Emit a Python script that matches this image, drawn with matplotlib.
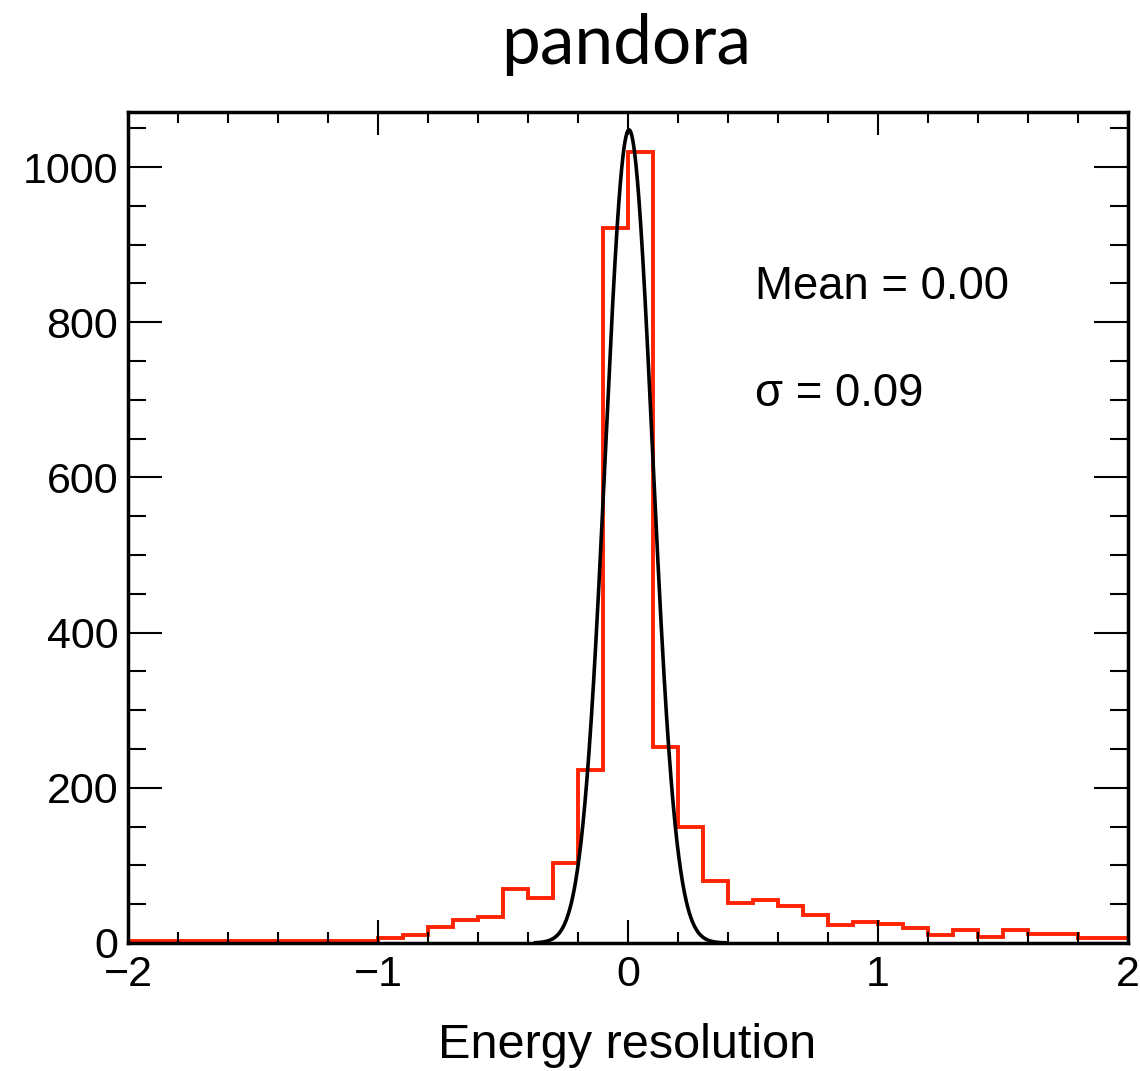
import numpy as np
import matplotlib
matplotlib.use("Agg")
import matplotlib.pyplot as plt
from matplotlib.ticker import MultipleLocator

# ---- data ----
bin_edges = np.round(np.arange(-2.0, 2.0001, 0.1), 2)
counts = [2, 2, 2, 2, 2, 2, 2, 2, 2, 2,
          6, 10, 21, 30, 34, 70, 58, 103, 223, 921,
          1020, 253, 150, 80, 51, 55, 48, 36, 23, 27,
          25, 19, 10, 17, 8, 17, 12, 12, 6, 6]
fit_amplitude = 1048.0
fit_mean = 0.004
fit_sigma = 0.094
fit_range = [-0.37, 0.39]
title = "pandora"
x_label = "Energy resolution"
stat_texts = ["Mean = 0.00", "σ = 0.09"]

W, H = 1140, 1071
fig = plt.figure(figsize=(W / 100, H / 100), dpi=100)
L, R, T, B = 128, 1128, 112, 943
ax = fig.add_axes([L / W, 1 - B / H, (R - L) / W, (B - T) / H])

ax.stairs(counts, bin_edges, baseline=None, color="#ff2200", linewidth=2.8)

xf = np.linspace(fit_range[0], fit_range[1], 400)
yf = fit_amplitude * np.exp(-0.5 * ((xf - fit_mean) / fit_sigma) ** 2)
ax.plot(xf, yf, color="black", linewidth=2.6)

ax.set_xlim(-2, 2)
ax.set_ylim(0, 1071)

for s in ax.spines.values():
    s.set_linewidth(2.5)

ax.xaxis.set_major_locator(MultipleLocator(1))
ax.xaxis.set_minor_locator(MultipleLocator(0.2))
ax.yaxis.set_major_locator(MultipleLocator(200))
ax.yaxis.set_minor_locator(MultipleLocator(50))

fontname = "Liberation Sans"
ax.tick_params(axis="both", which="both", direction="in", top=True, right=True,
               width=1.5, labelsize=31)
ax.tick_params(axis="x", which="major", length=16.5, pad=9)
ax.tick_params(axis="x", which="minor", length=8)
ax.tick_params(axis="y", which="major", length=24.5, pad=7)
ax.tick_params(axis="y", which="minor", length=13)
for lab in ax.get_xticklabels() + ax.get_yticklabels():
    lab.set_fontfamily(fontname)

fig.text(627 / W, 1 - 1058 / H, x_label, ha="center", va="baseline",
         fontsize=35, family=fontname)
fig.text(626 / W, 1 - 64 / H, title, ha="center", va="baseline",
         fontsize=50, family="Lato")
fig.text(755 / W, 1 - 299 / H, stat_texts[0], ha="left", va="baseline",
         fontsize=32.8, family=fontname)
fig.text(755 / W, 1 - 406 / H, stat_texts[1], ha="left", va="baseline",
         fontsize=32.8, family=fontname)

fig.savefig("out.png", dpi=100)
